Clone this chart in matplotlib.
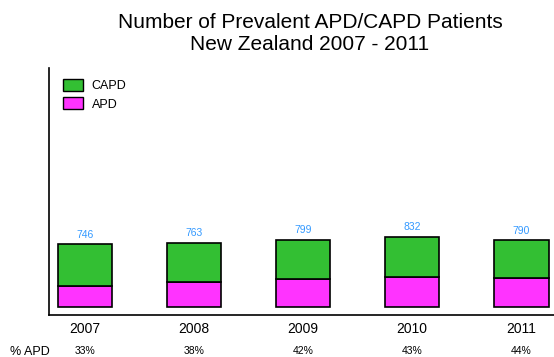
import matplotlib.pyplot as plt
from matplotlib.patches import Patch

plt.rcParams['font.family'] = ['Liberation Sans', 'DejaVu Sans']

# Prevalent peritoneal dialysis patients by year
years = ['2007', '2008', '2009', '2010', '2011']
totals = [746, 763, 799, 832, 790]
apd_pct = [33, 38, 42, 43, 44]
apd = [246, 290, 336, 358, 348]
capd = [t - a for t, a in zip(totals, apd)]

fig = plt.figure(figsize=(5.54, 3.57), dpi=100)
ax = fig.add_axes([49 / 554, 1 - 315 / 357, 505 / 554, 247 / 357])

x = range(len(years))
ax.bar(x, apd, width=0.5, color='#ff33ff', edgecolor='black', linewidth=1.2)
ax.bar(x, capd, width=0.5, bottom=apd, color='#33bf33', edgecolor='black', linewidth=1.2)

for i, t in enumerate(totals):
    ax.text(i, t + 50, str(t), ha='center', va='bottom', fontsize=7.5, color='#3399ff')

ax.set_xlim(-0.33, 4.3)
ax.set_ylim(-95, 2830)
ax.set_xticks(list(x))
ax.set_xticklabels(years, fontsize=10)
ax.tick_params(axis='x', length=0, pad=5)
ax.set_yticks([])
for side in ['top', 'right']:
    ax.spines[side].set_visible(False)
ax.spines['left'].set_linewidth(1.2)
ax.spines['bottom'].set_linewidth(1.2)

# % APD row under the year labels
fig.text(10 / 554, 1 - 352 / 357, '% APD', fontsize=9, va='center', ha='left')
for i, p in enumerate(apd_pct):
    xd = ax.transData.transform((i, 0))[0] / fig.dpi / fig.get_figwidth()
    fig.text(xd, 1 - 351 / 357, f'{p}%', fontsize=7.5, ha='center', va='center')

fig.text(310 / 554, 1 - 22 / 357, 'Number of Prevalent APD/CAPD Patients',
         fontsize=15, ha='center', va='center')
fig.text(310 / 554, 1 - 44 / 357, 'New Zealand 2007 - 2011',
         fontsize=15, ha='center', va='center')

handles = [Patch(facecolor='#33bf33', edgecolor='black', label='CAPD'),
           Patch(facecolor='#ff33ff', edgecolor='black', label='APD')]
ax.legend(handles=handles, loc='upper left', frameon=False, fontsize=9,
          handlelength=1.6, handleheight=1.1, borderaxespad=0.3,
          bbox_to_anchor=(0.01, 0.99), labelspacing=0.4, handletextpad=0.7)

fig.savefig('out.png', dpi=100)
